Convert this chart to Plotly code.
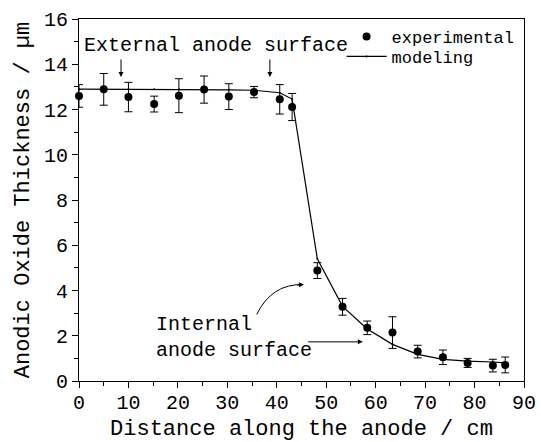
import plotly.graph_objects as go

# Experimental data
exp_x = [0, 5, 10, 15.2, 20.2, 25.3, 30.3, 35.4, 40.6, 43.1, 48.2, 53.3, 58.3, 63.4, 68.5, 73.6, 78.6, 83.7, 86.2]
exp_y = [12.6, 12.89, 12.55, 12.24, 12.61, 12.88, 12.57, 12.77, 12.45, 12.11, 4.88, 3.28, 2.35, 2.14, 1.30, 1.05, 0.80, 0.68, 0.71]
exp_err = [0.5, 0.7, 0.65, 0.35, 0.75, 0.6, 0.57, 0.25, 0.65, 0.6, 0.35, 0.37, 0.3, 0.7, 0.28, 0.32, 0.2, 0.28, 0.35]

# Modeling curve
model_x = [0, 5, 10, 15.2, 20.2, 25.3, 30.3, 35.4, 40.6, 43.1, 48.2, 53.3, 58.3, 63.4, 68.5, 73.6, 78.6, 83.7, 86.2]
model_y = [12.9, 12.9, 12.9, 12.9, 12.9, 12.88, 12.87, 12.85, 12.74, 12.46, 5.4, 3.3, 2.3, 1.62, 1.18, 0.96, 0.88, 0.84, 0.8]

FONT = "Liberation Mono, Courier New, monospace"

fig = go.Figure()
fig.add_trace(go.Scatter(
    x=exp_x, y=exp_y, mode="markers", name="experimental",
    marker=dict(size=8, color="black"),
    error_y=dict(type="data", array=exp_err, color="black", thickness=1, width=4),
    cliponaxis=False, legend="legend",
))
fig.add_trace(go.Scatter(
    x=model_x, y=model_y, mode="lines+markers", name="modeling",
    line=dict(color="black", width=1.2), marker=dict(size=2, color="black"),
    cliponaxis=False, legend="legend2",
))

arrow = dict(axref="x", ayref="y", text="", showarrow=True, arrowhead=2,
             arrowsize=1, arrowwidth=1, arrowcolor="black", standoff=0)
annots = [
    dict(x=0.6, y=14.85, text="External anode surface", showarrow=False,
         xanchor="left", yanchor="middle", font=dict(size=20)),
    dict(x=8.5, y=13.44, ax=8.5, ay=14.28, **arrow),
    dict(x=38.6, y=13.44, ax=38.6, ay=14.28, **arrow),
    dict(x=15.2, y=1.92, text="Internal<br>anode surface", showarrow=False, align="left",
         xanchor="left", yanchor="middle", font=dict(size=20)),
    dict(x=57.4, y=1.73, ax=46.05, ay=1.73, **arrow),
    dict(x=45.5, y=4.27, ax=43.8, ay=4.24, **arrow),
]
fig.update_layout(annotations=annots)
fig.add_shape(type="path", xref="x", yref="y",
              path="M 35.94,2.94 Q 38.97,4.30 45.3,4.26",
              line=dict(color="black", width=1))

axis_common = dict(
    showline=True, linecolor="black", linewidth=1.2, mirror=True,
    ticks="outside", ticklen=6, tickwidth=1, tickcolor="black",
    showgrid=False, zeroline=False, automargin=False,
    tickfont=dict(size=20, family=FONT, color="black"),
)
fig.update_xaxes(range=[0, 90], dtick=10, tick0=0, ticklabelstandoff=-3,
                 minor=dict(dtick=5, ticks="outside", ticklen=4, tickcolor="black"),
                 title=dict(text="Distance along the anode / cm", font=dict(size=22, family=FONT), standoff=22),
                 **axis_common)
fig.update_yaxes(range=[0, 16], dtick=2, tick0=0,
                 minor=dict(dtick=1, ticks="outside", ticklen=4, tickcolor="black"),
                 title=dict(text="Anodic Oxide Thickness / µm", font=dict(size=22, family=FONT), standoff=8),
                 **axis_common)

leg_common = dict(xanchor="left", yanchor="top", bgcolor="rgba(0,0,0,0)",
                  font=dict(size=17, family=FONT), itemwidth=40)
fig.update_layout(
    width=541, height=442,
    margin=dict(l=79, r=17, t=19, b=61),
    paper_bgcolor="white", plot_bgcolor="white",
    font=dict(family=FONT, color="black", size=20),
    showlegend=True,
    legend=dict(x=0.59, y=1.0, **leg_common),
    legend2=dict(x=0.59, y=0.945, **leg_common),
)

fig.write_html("out.html", config={"displayModeBar": False},
               post_script="document.body.style.margin='0px';")
